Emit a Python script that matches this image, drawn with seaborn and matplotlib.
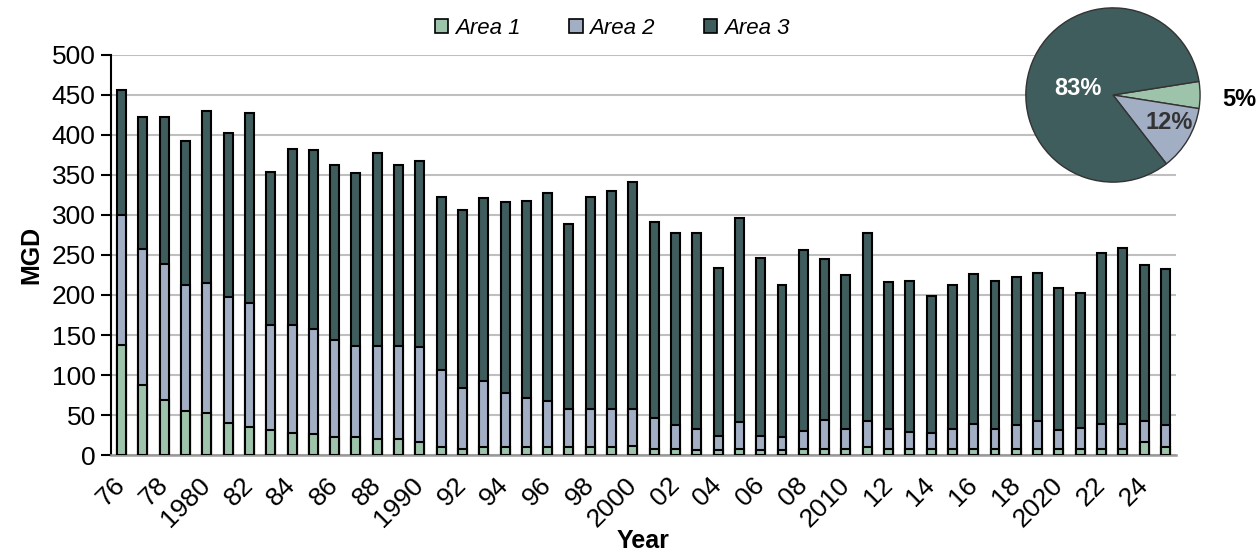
import pandas as pd
import matplotlib
matplotlib.use('Agg')
import matplotlib.pyplot as plt
import seaborn as sns
from matplotlib.patches import Patch

years = list(range(1976, 2026))
area1 = [137, 88, 69, 55, 53, 40, 35, 31, 28, 26, 23, 22, 20, 20, 16, 10, 8, 10, 10, 10,
         10, 10, 10, 10, 11, 8, 7, 6, 6, 7, 6, 6, 7, 7, 8, 10, 8, 8, 8, 8,
         8, 8, 8, 8, 8, 8, 8, 8, 16, 10]
area2 = [163, 169, 170, 158, 162, 157, 155, 131, 134, 131, 121, 114, 116, 116, 119, 96, 76, 82, 67, 61,
         58, 47, 48, 47, 47, 38, 30, 27, 18, 34, 18, 16, 23, 37, 24, 32, 24, 21, 19, 24,
         31, 25, 30, 35, 23, 26, 31, 31, 26, 28]
area3 = [156, 166, 184, 179, 215, 206, 237, 192, 220, 224, 218, 216, 241, 227, 232, 216, 222, 229, 239, 247,
         260, 232, 264, 273, 283, 245, 240, 244, 210, 255, 222, 191, 226, 201, 193, 235, 184, 189, 172, 180,
         187, 184, 184, 185, 178, 169, 214, 220, 195, 194]
tick_labels = ['76', '', '78', '', '1980', '', '82', '', '84', '', '86', '', '88', '', '1990', '',
               '92', '', '94', '', '96', '', '98', '', '2000', '', '02', '', '04', '', '06', '',
               '08', '', '2010', '', '12', '', '14', '', '16', '', '18', '', '2020', '', '22', '',
               '24', '']
series_names = ['Area 1', 'Area 2', 'Area 3']
pie_shares = [5, 12, 83]
pie_labels = ['5%', '12%', '83%']

colors = ['#9DC4AB', '#A1AEC4', '#3F5D5C']

sns.set_style('white')
plt.rcParams['font.family'] = ['Liberation Sans', 'DejaVu Sans']
plt.rcParams['text.color'] = 'black'
plt.rcParams['axes.labelcolor'] = 'black'
plt.rcParams['xtick.color'] = 'black'
plt.rcParams['ytick.color'] = 'black'

df = pd.DataFrame({'year': [str(y) for y in years], 'a1': area1, 'a2': area2, 'a3': area3})
df['top2'] = df['a1'] + df['a2']
df['total'] = df['top2'] + df['a3']

fig = plt.figure(figsize=(12.57, 5.52), dpi=100)
ax = fig.add_axes([0.0883, 0.1757, 0.8473, 0.7247])

# stacked bars drawn as overlapping cumulative bars
for col, c in [('total', colors[2]), ('top2', colors[1]), ('a1', colors[0])]:
    sns.barplot(data=df, x='year', y=col, color=c, width=0.42, edgecolor='black',
                linewidth=1.5, saturation=1, ax=ax, zorder=3)

ax.set_ylim(0, 500)
ax.set_xlim(-0.5, len(years) - 0.5)
ax.set_yticks(range(0, 501, 50))
ax.yaxis.grid(True, color='#BFBFBF', linewidth=1.5, zorder=0)
ax.set_axisbelow(True)
ax.set_xticks(range(len(years)))
ax.set_xticklabels(tick_labels, rotation=45, ha='right', va='center', rotation_mode='anchor')
ax.tick_params(axis='x', length=5, width=1.2, color='#999999', labelcolor='black', pad=14, labelsize=19)
ax.tick_params(axis='y', length=7, width=1.5, color='black', labelsize=19, pad=4, left=True)
for s in ['top', 'right']:
    ax.spines[s].set_visible(False)
ax.spines['left'].set_color('black')
ax.spines['left'].set_linewidth(1.5)
ax.spines['bottom'].set_color('#999999')
ax.spines['bottom'].set_linewidth(1.8)
ax.set_ylabel('MGD', fontsize=18, fontweight='bold', labelpad=6)
ax.set_xlabel('Year', fontsize=18, fontweight='bold', labelpad=-2)

handles = [Patch(facecolor=c, edgecolor='black', linewidth=1.2) for c in colors]
fig.legend(handles, series_names, loc='center', bbox_to_anchor=(0.487, 0.948), ncol=3,
           frameon=False, prop={'style': 'italic', 'size': 16}, handlelength=0.6,
           handleheight=0.6, handletextpad=0.3, columnspacing=2.2)

# share pie in the corner
pax = fig.add_axes([0.8154, 0.6685, 0.14, 0.3188])
wedges, _ = pax.pie(pie_shares, colors=colors, startangle=9, counterclock=False,
                    wedgeprops={'edgecolor': '#333333', 'linewidth': 1})
pax.set_aspect('equal')
pax.set_xlim(-1.01, 1.01)
pax.set_ylim(-1.01, 1.01)
pax.text(-0.4, 0.08, pie_labels[2], color='white', fontsize=17, fontweight='bold',
         ha='center', va='center')
pax.text(0.65, -0.32, pie_labels[1], color='#333333', fontsize=17, fontweight='bold',
         ha='center', va='center')
pax.text(1.45, -0.05, pie_labels[0], color='black', fontsize=17, fontweight='bold',
         ha='center', va='center')

fig.savefig('out.png', dpi=100)
